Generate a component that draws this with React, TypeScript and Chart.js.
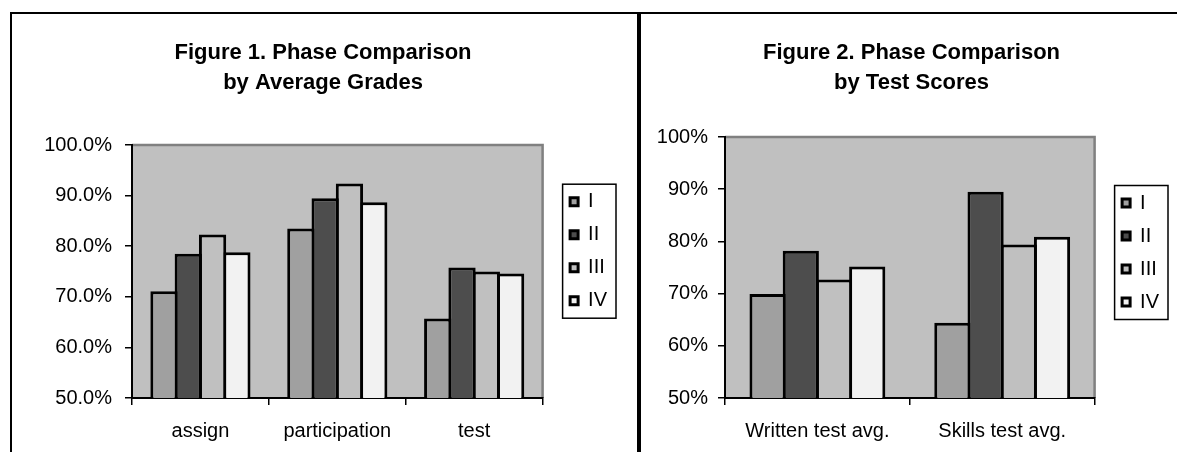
import React, { useEffect, useRef } from 'react';
import { Chart, registerables } from 'chart.js';

Chart.register(...registerables);

// ---------- data ----------
const SERIES = ['I', 'II', 'III', 'IV'];
const SERIES_COLORS = ['#a0a0a0', '#4d4d4d', '#c0c0c0', '#f2f2f2'];

const FIG1_TITLE = ['Figure 1. Phase Comparison', 'by Average Grades'];
const FIG1_CATEGORIES = ['assign', 'participation', 'test'];
const FIG1_I = [71.1, 83.5, 65.7];
const FIG1_II = [78.5, 89.5, 75.8];
const FIG1_III = [82.3, 92.4, 75.0];
const FIG1_IV = [78.8, 88.7, 74.6];
const FIG1_TICKS = [50, 60, 70, 80, 90, 100];

const FIG2_TITLE = ['Figure 2. Phase Comparison', 'by Test Scores'];
const FIG2_CATEGORIES = ['Written test avg.', 'Skills test avg.'];
const FIG2_I = [69.9, 64.4];
const FIG2_II = [78.2, 89.5];
const FIG2_III = [72.7, 79.4];
const FIG2_IV = [75.2, 80.9];
const FIG2_TICKS = [50, 60, 70, 80, 90, 100];

// ---------- styling ----------
const FONT = 'Liberation Sans, Arial, Helvetica, sans-serif';

const plotFrame = {
  id: 'plotFrame',
  beforeDraw(chart: any) {
    const { ctx, chartArea: a } = chart;
    ctx.save();
    ctx.fillStyle = '#c0c0c0';
    ctx.fillRect(a.left, a.top, a.right - a.left, a.bottom - a.top);
    ctx.strokeStyle = '#808080';
    ctx.lineWidth = 2.5;
    ctx.beginPath();
    ctx.moveTo(a.left, a.top);
    ctx.lineTo(a.right, a.top);
    ctx.lineTo(a.right, a.bottom);
    ctx.stroke();
    ctx.restore();
  },
};

const legendBorder = {
  id: 'legendBorder',
  afterDraw(chart: any) {
    const lg = chart.legend;
    const hb = lg && lg.legendHitBoxes;
    if (!hb || !hb.length) return;
    const first = hb[0];
    const last = hb[hb.length - 1];
    const left = first.left - 7.5;
    const right = lg.right - 1;
    const top = first.top - 7.5;
    const bottom = last.top + last.height + 7.5;
    const { ctx } = chart;
    ctx.save();
    ctx.strokeStyle = '#000';
    ctx.lineWidth = 1.5;
    ctx.strokeRect(left, top, right - left, bottom - top);
    ctx.restore();
  },
};

type Params = {
  title: string[];
  categories: string[];
  values: number[][];
  ticks: number[];
  tickFmt: (v: number) => string;
  padLeft: number;
  padRight: number;
  yAxisWidth: number;
  yLabelPad: number;
  titleBottom: number;
  legendOffset: number;
  catPct: number;
  barPct: number;
};

function makeConfig(p: Params): any {
  const datasets = SERIES.map((name, i) => ({
    label: name,
    data: p.values[i],
    backgroundColor: SERIES_COLORS[i],
    borderColor: '#000',
    borderWidth: 3,
    categoryPercentage: p.catPct,
    barPercentage: p.barPct,
  }));
  return {
    type: 'bar',
    data: { labels: p.categories, datasets },
    plugins: [plotFrame, legendBorder],
    options: {
      responsive: false,
      animation: false,
      devicePixelRatio: 1,
      layout: { padding: { left: p.padLeft, right: p.padRight, top: 0, bottom: 0 } },
      plugins: {
        tooltip: { enabled: false },
        title: {
          display: true,
          text: p.title,
          color: '#000',
          font: { family: FONT, size: 22, weight: 'bold', lineHeight: 29.5 / 22 },
          padding: { top: 24.25, bottom: p.titleBottom },
        },
        legend: {
          display: true,
          position: 'right',
          align: 'start',
          fullSize: false,
          title: { display: true, text: '', font: { size: p.legendOffset, lineHeight: 1 }, padding: 0 },
          labels: {
            color: '#000',
            font: { family: FONT, size: 20 },
            boxWidth: 8,
            boxHeight: 8,
            padding: 13,
          },
        },
      },
      scales: {
        x: {
          offset: true,
          grid: { display: true, offset: true, drawOnChartArea: false, drawTicks: true, tickLength: 7, color: '#000', lineWidth: 1.5 },
          border: { display: true, color: '#000', width: 2 },
          ticks: { color: '#000', font: { family: FONT, size: 20 }, padding: 14, maxRotation: 0, autoSkip: false },
          afterFit: (s: any) => { s.height = 54; },
        },
        y: {
          min: p.ticks[0],
          max: p.ticks[p.ticks.length - 1],
          afterBuildTicks: (s: any) => { s.ticks = p.ticks.map((v) => ({ value: v })); },
          grid: { display: true, drawOnChartArea: false, drawTicks: true, tickLength: 7, color: '#000', lineWidth: 1.5 },
          border: { display: true, color: '#000', width: 2 },
          ticks: { color: '#000', font: { family: FONT, size: 20 }, padding: p.yLabelPad, callback: (v: any) => p.tickFmt(Number(v)) },
          afterFit: (s: any) => { s.width = p.yAxisWidth; },
        },
        y2: {
          position: 'right',
          display: true,
          grid: { display: false },
          border: { display: false },
          ticks: { display: false },
          afterFit: (s: any) => { s.width = 14.5; },
        },
      },
    },
  };
}

function ChartCanvas({ params, left, top, width, height }: { params: Params; left: number; top: number; width: number; height: number }) {
  const ref = useRef<HTMLCanvasElement | null>(null);
  useEffect(() => {
    if (!ref.current) return;
    const chart = new Chart(ref.current, makeConfig(params));
    return () => chart.destroy();
  }, []);
  return <canvas ref={ref} width={width} height={height} style={{ position: 'absolute', left, top }} />;
}

const FIG1: Params = {
  title: FIG1_TITLE,
  categories: FIG1_CATEGORIES,
  values: [FIG1_I, FIG1_II, FIG1_III, FIG1_IV],
  ticks: FIG1_TICKS,
  tickFmt: (v) => v.toFixed(1) + '%',
  padLeft: 17,
  padRight: 20,
  yAxisWidth: 103,
  yLabelPad: 13,
  titleBottom: 47.75,
  legendOffset: 33.7,
  catPct: 0.71,
  barPct: 1.1235,
};

const FIG2: Params = {
  title: FIG2_TITLE,
  categories: FIG2_CATEGORIES,
  values: [FIG2_I, FIG2_II, FIG2_III, FIG2_IV],
  ticks: FIG2_TICKS,
  tickFmt: (v) => v.toFixed(0) + '%',
  padLeft: 13,
  padRight: 8,
  yAxisWidth: 71,
  yLabelPad: 10,
  titleBottom: 39.75,
  legendOffset: 43,
  catPct: 0.719,
  barPct: 1.09,
};

export default function App() {
  return (
    <div style={{ position: 'absolute', left: 0, top: 0, width: 1177, height: 452, background: '#fff', overflow: 'hidden' }}>
      <ChartCanvas params={FIG1} left={12} top={14} width={625} height={438} />
      <ChartCanvas params={FIG2} left={641} top={14} width={536} height={438} />
      <div style={{ position: 'absolute', left: 10, top: 12, width: 1167, height: 2, background: '#000' }} />
      <div style={{ position: 'absolute', left: 10, top: 12, width: 2, height: 440, background: '#000' }} />
      <div style={{ position: 'absolute', left: 637, top: 12, width: 3.5, height: 440, background: '#000' }} />
    </div>
  );
}
